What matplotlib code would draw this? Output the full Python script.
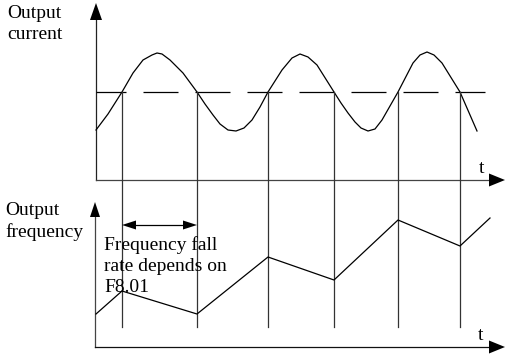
import matplotlib.pyplot as plt

plt.rcParams['font.family'] = ['Liberation Serif', 'DejaVu Serif']

# values (x = time position, y = level, both in image px)
cur_t = [96, 108, 122, 133, 143, 152, 157, 162, 170, 183, 197, 205, 213, 220,
         228, 236, 244, 252, 260, 268, 282, 292, 300, 308, 317, 334, 341, 348,
         355, 361, 368, 375, 382, 390, 398, 413, 420, 427, 434, 442, 460, 477]
cur_y = [130, 114, 92, 73, 60, 55, 53, 54, 60, 73, 92, 104, 115, 124,
         130, 131, 128, 120, 107, 92, 70, 58, 54, 57, 65, 92, 103, 113,
         122, 128, 131, 129, 120, 106, 92, 63, 55, 52, 55, 63, 92, 131]
ref_level = 92

freq_t = [96, 122, 197, 268, 334, 398, 460, 490]
freq_y = [314, 291, 314, 257, 280, 220, 246, 218]

switch_t = [122, 197, 268, 334, 398, 460]

W, H = 505, 356
fig = plt.figure(figsize=(W / 100, H / 100), dpi=100)
ax = fig.add_axes([0, 0, 1, 1])
ax.set_xlim(0, W)
ax.set_ylim(H, 0)
ax.axis('off')

px = 72 / 100  # points per pixel
lw = 0.9

def head(tip, direction, length, width):
    x, y = tip
    dx, dy = direction
    bx, by = x - dx * length, y - dy * length
    nx, ny = -dy, dx
    ax.fill([x, bx + nx * width / 2, bx - nx * width / 2],
            [y, by + ny * width / 2, by - ny * width / 2],
            color='black', lw=0, zorder=5)

# axes of the two panels
ax.plot([96, 96], [180, 18], color='#222', lw=lw)
ax.plot([96, 492], [180, 180], color='#444', lw=lw)
head((96, 3), (0, -1), 17, 12)
head((505, 180), (1, 0), 16, 13)

ax.plot([95, 95], [347, 215], color='#444', lw=lw)
ax.plot([95, 492], [347, 347], color='#111', lw=lw)
head((95, 202), (0, -1), 15, 10)
head((505, 347), (1, 0), 16, 13)

ax.text(479, 173, 't', fontsize=14, ha='left', va='baseline')
ax.text(478, 340, 't', fontsize=14, ha='left', va='baseline')

ax.text(7, 18, 'Output', fontsize=14, va='baseline')
ax.text(7, 39, 'current', fontsize=14, va='baseline')
ax.text(5, 215, 'Output', fontsize=14, va='baseline')
ax.text(5, 237, 'frequency', fontsize=14, va='baseline')

# reference level (dashed)
ax.plot([96, 485], [ref_level, ref_level], color='black', lw=lw,
        linestyle=(5 * px / lw, (35 * px / lw, 17 * px / lw)))

# output current
ax.plot(cur_t, cur_y, color='black', lw=lw)

# switching instants
for t in switch_t:
    ax.plot([t, t], [ref_level, 327], color='#333', lw=lw)

# output frequency
ax.plot(freq_t, freq_y, color='black', lw=lw)

# fall-time arrow
ax.plot([130, 190], [225, 225], color='black', lw=lw)
head((122, 225), (-1, 0), 14, 9)
head((197, 225), (1, 0), 14, 9)

ax.text(104, 250, 'Frequency fall', fontsize=14, va='baseline')
ax.text(104, 271, 'rate depends on', fontsize=14, va='baseline')
ax.text(104, 292, 'F8.01', fontsize=14, va='baseline')

fig.savefig('out.png', dpi=100)
